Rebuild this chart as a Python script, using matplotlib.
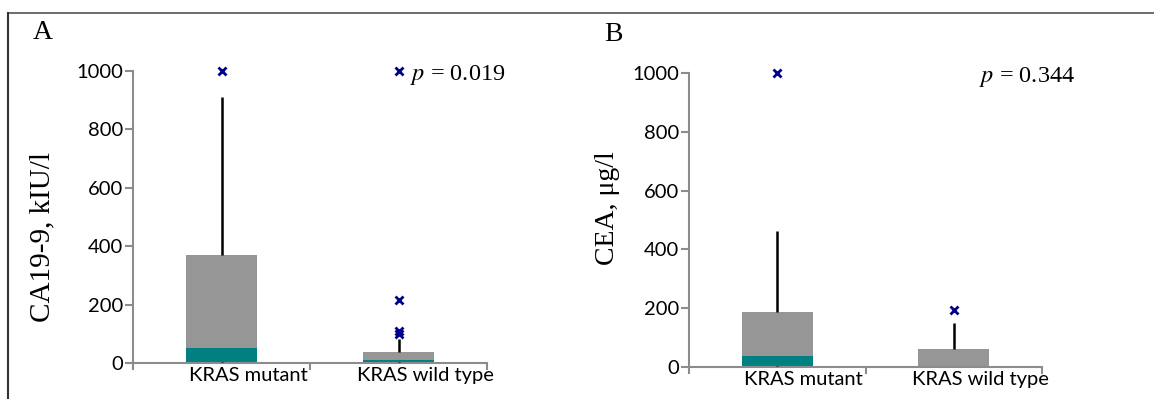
import numpy as np
import matplotlib.pyplot as plt
from matplotlib.lines import Line2D

# ---------- data ----------
groups = ['KRAS mutant', 'KRAS wild type']

# panel A: CA19-9
ca_min = [0, 0]
ca_q1 = [4, 2]
ca_median = [52, 10]
ca_q3 = [370, 36]
ca_max = [912, 82]
ca_outliers = [[1000], [100, 110, 215, 1000]]

# panel B: CEA
cea_min = [0, 0]
cea_q1 = [2, 1]
cea_median = [36, 4]
cea_q3 = [187, 62]
cea_max = [461, 150]
cea_outliers = [[1000], [195]]

GREY = '#969696'
TEAL = '#008080'
AXIS = '#8c8c8c'
NAVY = '#00008b'

plt.rcParams['font.family'] = ['Lato', 'DejaVu Sans']

fig = plt.figure(figsize=(11.54, 3.99), dpi=100)

# outer frame (top + left line)
fig.add_artist(Line2D([8 / 1154, 1], [1 - 13 / 399, 1 - 13 / 399], color='#555555', lw=1.2))
fig.add_artist(Line2D([8 / 1154, 8 / 1154], [0, 1 - 13 / 399], color='#333333', lw=1.5))


def box_panel(ax, vmin, q1, med, q3, vmax, outl):
    x = np.arange(len(groups)) + 0.5
    w = 0.4
    # teal: q1 -> median, grey: median -> q3
    ax.bar(x, np.array(med) - np.array(q1), w, bottom=q1, color=TEAL, zorder=2)
    ax.bar(x, np.array(q3) - np.array(med), w, bottom=med, color=GREY, zorder=2)
    ax.vlines(x, q3, vmax, color='black', lw=1.8, zorder=3)
    ax.vlines(x, vmin, q1, color='black', lw=1.8, zorder=3)
    for xi, pts in zip(x, outl):
        ax.plot([xi] * len(pts), pts, 'x', color=NAVY, ms=5.5, mew=2, zorder=4, clip_on=False)

    ax.set_xlim(0, 2)
    ax.set_ylim(0, 1000)
    ax.set_yticks(np.arange(0, 1001, 200))
    for s in ['top', 'right']:
        ax.spines[s].set_visible(False)
    for s in ['left', 'bottom']:
        ax.spines[s].set_color(AXIS)
        ax.spines[s].set_linewidth(1.5)
    ax.tick_params(axis='y', length=6, width=1.5, color=AXIS, labelsize=14.5, pad=1)
    # category tick marks at boundaries, labels slightly right of box centre
    ax.set_xticks([0, 1, 2])
    ax.set_xticklabels([])
    ax.tick_params(axis='x', which='major', length=5, width=1.5, color=AXIS, direction='out')
    ax.set_xticks(x + 0.15, minor=True)
    ax.set_xticklabels(groups, minor=True)
    ax.tick_params(axis='x', which='minor', length=0, labelsize=14.5, pad=3)


axA = fig.add_axes([133 / 1154, 1 - 363 / 399, 354 / 1154, 292 / 399])
box_panel(axA, ca_min, ca_q1, ca_median, ca_q3, ca_max, ca_outliers)

axB = fig.add_axes([689 / 1154, 1 - 367 / 399, 353 / 1154, 294 / 399])
box_panel(axB, cea_min, cea_q1, cea_median, cea_q3, cea_max, cea_outliers)

serif = 'Liberation Serif'
fig.text(33 / 1154, 1 - 39 / 399, 'A', family=serif, fontsize=20)
fig.text(604 / 1154, 1 - 41 / 399, 'B', family=serif, fontsize=20)

fig.text(42 / 1154, 1 - 237 / 399, 'CA19-9, kIU/l', family=serif, fontsize=21,
         rotation=90, ha='center', va='center')
fig.text(607 / 1154, 1 - 208 / 399, 'CEA, μg/l', family=serif, fontsize=20,
         rotation=90, ha='center', va='center')

fig.text(505 / 1154, 1 - 80 / 399, r'$\it{p}$ = 0.019', family=serif, fontsize=17.5,
         ha='right', va='baseline', math_fontfamily='stix')
fig.text(1075 / 1154, 1 - 82 / 399, r'$\it{p}$ = 0.344', family=serif, fontsize=17.5,
         ha='right', va='baseline', math_fontfamily='stix')

fig.savefig('out.png', dpi=100)
